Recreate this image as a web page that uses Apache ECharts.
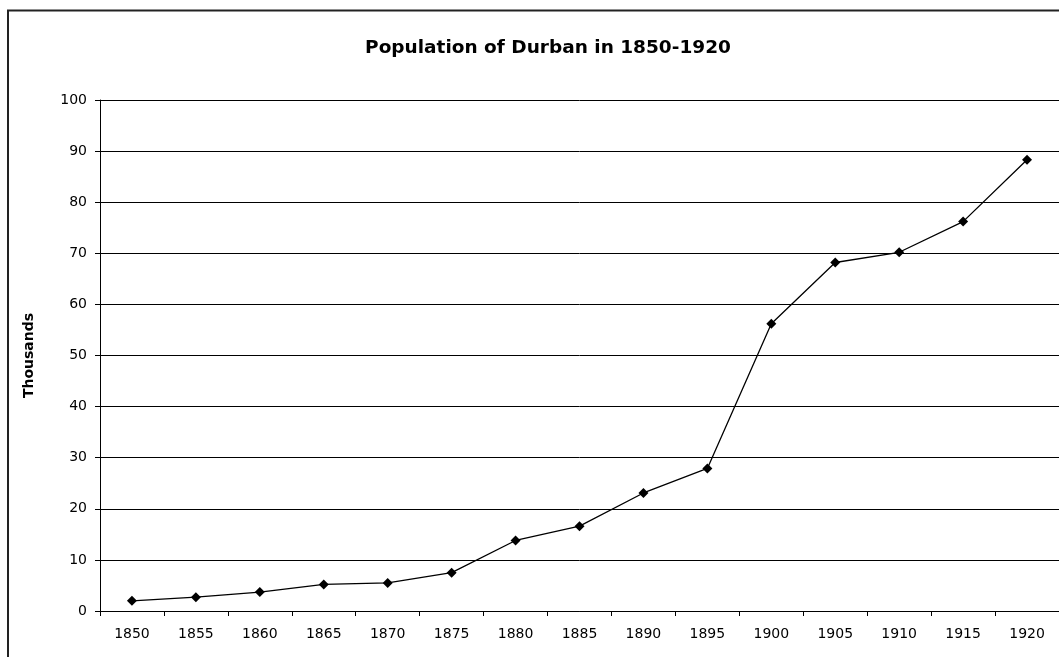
<!DOCTYPE html>
<html>
<head>
<meta charset="utf-8">
<script src="https://cdn.jsdelivr.net/npm/echarts@6/dist/echarts.min.js"></script>
<style>
html,body{margin:0;padding:0;background:#fff;}
#chart{width:1059px;height:657px;}
</style>
</head>
<body>
<div id="chart"></div>
<script>
var titleText = 'Population of Durban in 1850-1920';
var yAxisName = 'Thousands';
var years = ['1850','1855','1860','1865','1870','1875','1880','1885','1890','1895','1900','1905','1910','1915','1920'];
var population = [2.0, 2.7, 3.7, 5.2, 5.5, 7.5, 13.8, 16.6, 23.1, 27.9, 56.2, 68.2, 70.2, 76.2, 88.3];

var chart = echarts.init(document.getElementById('chart'));
chart.setOption({
  animation: false,
  backgroundColor: '#fff',
  title: {
    text: titleText,
    left: 543,
    top: 34,
    textAlign: 'center',
    textStyle: {fontFamily: 'DejaVu Sans', fontWeight: 'bold', fontSize: 18.5, color: '#000'}
  },
  graphic: [{
    type: 'rect',
    shape: {x: 8, y: 10.5, width: 1200, height: 800},
    style: {fill: 'none', stroke: '#222', lineWidth: 2},
    silent: true
  }],
  grid: {left: 100, right: -1, top: 100, bottom: 46, containLabel: false},
  xAxis: {
    type: 'category',
    data: years,
    boundaryGap: true,
    axisLine: {lineStyle: {color: '#000', width: 1}},
    axisTick: {show: true, length: 5, lineStyle: {color: '#000'}},
    axisLabel: {margin: 16, fontFamily: 'DejaVu Sans', fontSize: 14, color: '#000', interval: 0},
    splitLine: {show: false}
  },
  yAxis: {
    type: 'value',
    min: 0, max: 100, interval: 10,
    name: yAxisName,
    nameLocation: 'middle',
    nameGap: 64,
    nameTextStyle: {fontFamily: 'DejaVu Sans', fontWeight: 'bold', fontSize: 14, color: '#000'},
    axisLine: {show: true, lineStyle: {color: '#000', width: 1}},
    axisTick: {show: true, length: 5, lineStyle: {color: '#000'}},
    axisLabel: {margin: 13, fontFamily: 'DejaVu Sans', fontSize: 14, color: '#000'},
    splitLine: {show: true, lineStyle: {color: '#000', width: 1}}
  },
  series: [{
    type: 'line',
    data: population,
    symbol: 'diamond',
    symbolSize: 10,
    lineStyle: {color: '#000', width: 1.3},
    itemStyle: {color: '#000'}
  }]
});
</script>
</body>
</html>
